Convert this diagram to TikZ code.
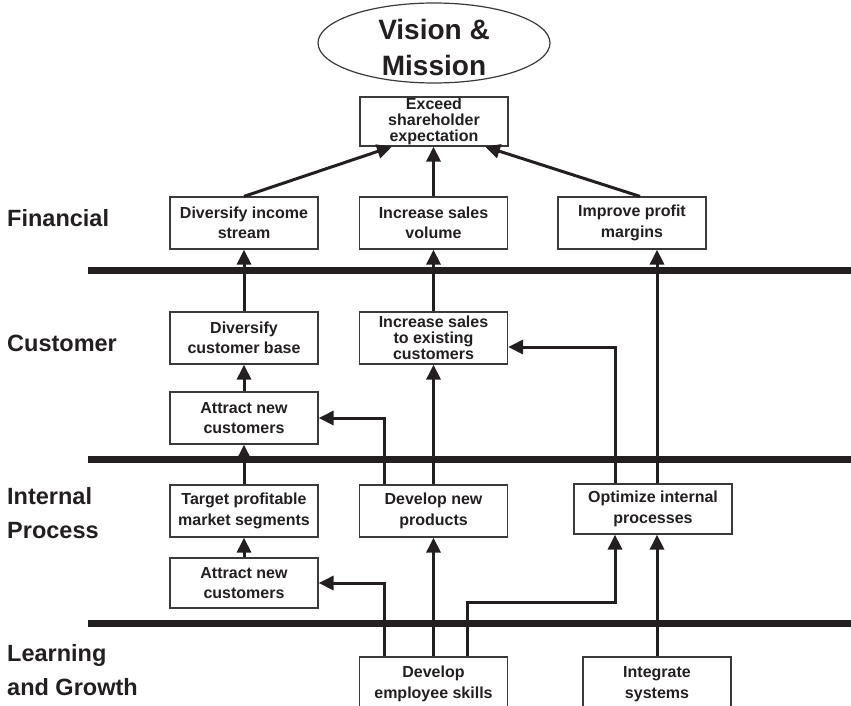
\documentclass[tikz,border=0pt]{standalone}
\usepackage{fontspec}
\setmainfont{Liberation Sans}
\usetikzlibrary{arrows.meta,shapes.geometric}
\definecolor{ink}{HTML}{231F20}
\definecolor{frame}{HTML}{3A3A3A}
\begin{document}
\begin{tikzpicture}[x=1pt,y=-1pt,
  every node/.style={text=ink},
  box/.style={draw=frame,line width=1.2pt,minimum width=148pt,minimum height=52pt,
    inner sep=0pt,align=center,font=\bfseries\fontsize{16}{20.5}\selectfont},
  tallbox/.style={box,font=\bfseries\fontsize{16}{16}\selectfont},
  lane/.style={anchor=north west,inner sep=0pt,align=left,font=\bfseries\fontsize{23.5}{34}\selectfont},
  divider/.style={line width=7pt,draw=ink},
  arr/.style={draw=ink,line width=3pt,-{Triangle[length=15pt,width=14pt]}}]
\useasboundingbox (0,0) rectangle (851,706);
\clip (0,0) rectangle (851,706);

% lane dividers
\draw[divider] (88,270) -- (851,270);
\draw[divider] (88,459) -- (851,459);
\draw[divider] (88,623) -- (851,623);

% lane titles (top edge of the first line)
\node[lane] (tfin) at (7,209) {Financial};
\node[lane] (tcus) at (7,335) {Customer};
\node[lane] (tint) at (7,487) {Internal\\Process};
\node[lane] (tlrn) at (7,644) {Learning\\and Growth};

% top of the map
\node[draw=frame,line width=1.2pt,ellipse,minimum width=232pt,minimum height=80pt,inner sep=0pt] (vision) at (434,43) {};
\node[align=center,inner sep=0pt,font=\bfseries\fontsize{28}{36}\selectfont] (visiontext) at (434,47) {Vision \&\\Mission};
\node[tallbox,minimum height=49pt] (exceed) at (434,121.5) {Exceed\\shareholder\\expectation};

% financial
\node[box] (fin1) at (244,223) {Diversify income\\stream};
\node[box] (fin2) at (433.5,223) {Increase sales\\volume};
\node[box] (fin3) at (632,223) {Improve profit\\margins};

% customer
\node[box] (cus1) at (244,338) {Diversify\\customer base};
\node[tallbox] (cus2) at (433.5,338) {Increase sales\\to existing\\customers};
\node[box] (cus3) at (244,418) {Attract new\\customers};

% internal process
\node[box] (int1) at (244,511) {Target profitable\\market segments};
\node[box] (int2) at (433.5,511) {Develop new\\products};
\node[box,minimum width=158pt,minimum height=50pt] (int3) at (653,509) {Optimize internal\\processes};
\node[box,minimum height=50pt] (int4) at (244,583) {Attract new\\customers};

% learning and growth
\node[box,minimum height=54pt] (lrn1) at (433.5,684) {Develop\\employee skills};
\node[box,minimum height=54pt] (lrn2) at (657,684) {Integrate\\systems};

\coordinate (elbow) at (467.5,602);

% links into the top objective
\draw[arr] (fin1.north) -- ([xshift=-42pt]exceed.south);
\draw[arr] (fin2.north) -- (fin2.north |- exceed.south);
\draw[arr] ([xshift=8pt]fin3.north) -- ([xshift=51pt]exceed.south);

% customer to financial
\draw[arr] (cus1.north) -- (fin1.south);
\draw[arr] (cus2.north) -- (fin2.south);
\draw[arr] (cus3.north) -- (cus1.south);

% internal process upwards
\draw[arr] (int1.north) -- (cus3.south);
\draw[arr] (int4.north) -- (int1.south);
\draw[arr] (int2.north) -- (cus2.south);
\draw[arr] ([xshift=-49.5pt]int2.north) |- (cus3.east);
\draw[arr] ([xshift=-38pt]int3.north) |- ([yshift=-9pt]cus2.east);
\draw[arr] (lrn2.north |- int3.north) -- (lrn2.north |- fin3.south);

% learning and growth upwards
\draw[arr] ([xshift=-49.5pt]lrn1.north) |- (int4.east);
\draw[arr] (lrn1.north) -- (int2.south);
\draw[arr] (lrn1.north -| elbow) -- (elbow) -| ([xshift=-38pt]int3.south);
\draw[arr] (lrn2.north) -- (lrn2.north |- int3.south);
\end{tikzpicture}
\end{document}
